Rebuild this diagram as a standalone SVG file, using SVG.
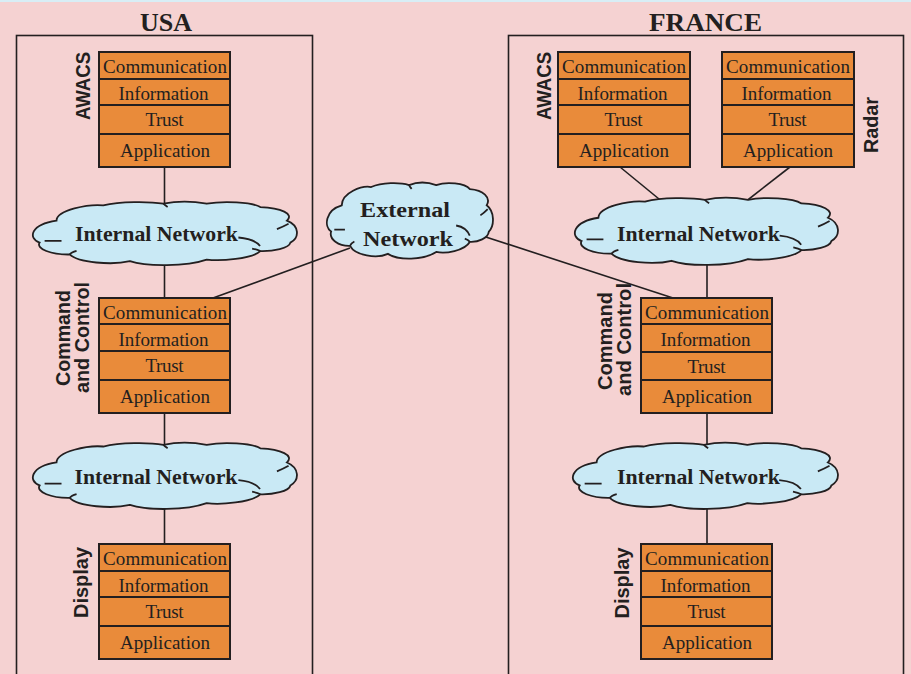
<svg xmlns="http://www.w3.org/2000/svg" xmlns:xlink="http://www.w3.org/1999/xlink" width="911" height="674" viewBox="0 0 911 674">
<style>
.bg{fill:#f5d2d2}
.frame{fill:none;stroke:#231f20;stroke-width:1.6}
.title{font-family:"Liberation Serif",serif;font-weight:bold;font-size:26px;fill:#231f20;text-anchor:middle}
.row{fill:#e98b3a;stroke:#231f20;stroke-width:2}
.rt{font-family:"Liberation Serif",serif;font-size:19px;fill:#231f20;text-anchor:middle}
.side{font-family:"Liberation Sans",Arial,sans-serif;font-weight:bold;font-size:21px;fill:#231f20;text-anchor:middle}
.cloud{fill:#c9e9f5;stroke:#231f20;stroke-width:1.8}
.hook{fill:none;stroke:#231f20;stroke-width:1.8}
.ct{font-family:"Liberation Serif",serif;font-weight:bold;font-size:22px;fill:#231f20;text-anchor:middle}
.conn line{stroke:#231f20;stroke-width:1.6}
</style>
<defs>
<path id="cloud" vector-effect="non-scaling-stroke" d="M2.5 61.5 C-2 55 -1 34 8.9 28.2 C9 12 21 3 26.6 5.1 C33 -1 44 -1 49.4 2.6 C55 -2 61 -1 65.8 2.6 C72 -2 83 0 86.1 7.7 C94 9 99 18 96.2 28.2 C101 36 101 54 97.5 61.5 C97 70 91 75 86.1 74.4 C83 86 71 90 65.8 87.2 C58 98 43 98 36.7 89.7 C30 96 17 92 13.9 79.5 C7 80 1 71 2.5 61.5 Z"/>
<path id="hooks" vector-effect="non-scaling-stroke" fill="none" d="M4.4 59 L10.8 59 M92.4 41 Q95 37 96.8 33 M77.8 53.8 Q84 56 86 66.7 M13.9 79.5 Q14.5 76 16.5 74 M49.4 2.6 Q50 5 51 7.5 M86.1 74.4 Q85 72 83 70.5"/>
</defs>
<rect class="bg" x="0" y="0" width="911" height="674"/>
<rect x="0" y="0" width="911" height="2" fill="#d8eef6"/>

<g id="usa-frame">
<rect class="frame" x="16.5" y="35.5" width="296" height="700"/>
<text class="title" x="166" y="31" textLength="52" lengthAdjust="spacingAndGlyphs">USA</text>
</g>
<g id="france-frame">
<rect class="frame" x="508.5" y="35.5" width="395" height="700"/>
<text class="title" x="705.5" y="31" textLength="113" lengthAdjust="spacingAndGlyphs">FRANCE</text>
</g>

<g id="connectors" class="conn">
<line x1="164.5" y1="167" x2="164.5" y2="215"/>
<line x1="164.5" y1="255" x2="164.5" y2="298"/>
<line x1="164.5" y1="413" x2="164.5" y2="455"/>
<line x1="164.5" y1="500" x2="164.5" y2="544"/>
<line x1="350" y1="248" x2="213" y2="298"/>
<line x1="475" y1="233.4" x2="673" y2="298"/>
<line x1="620" y1="167" x2="670" y2="208"/>
<line x1="790" y1="167" x2="740" y2="206"/>
<line x1="707" y1="255" x2="707" y2="298"/>
<line x1="707" y1="413" x2="707" y2="455"/>
<line x1="707" y1="500" x2="707" y2="544"/>
</g>

<g id="usa-awacs">
<rect class="row" x="99" y="52" width="131" height="27"/>
<rect class="row" x="99" y="79" width="131" height="26"/>
<rect class="row" x="99" y="105" width="131" height="29"/>
<rect class="row" x="99" y="134" width="131" height="33"/>
<text class="rt" x="165" y="73" textLength="124" lengthAdjust="spacing">Communication</text>
<text class="rt" x="163.5" y="99.5" textLength="90" lengthAdjust="spacing">Information</text>
<text class="rt" x="164.5" y="126" textLength="38" lengthAdjust="spacing">Trust</text>
<text class="rt" x="165" y="157" textLength="90" lengthAdjust="spacing">Application</text>
<text class="side" transform="translate(90,86) rotate(-90)" textLength="68" lengthAdjust="spacingAndGlyphs">AWACS</text>
</g>

<g id="usa-cc">
<rect class="row" x="99" y="298" width="131" height="26"/>
<rect class="row" x="99" y="324" width="131" height="27"/>
<rect class="row" x="99" y="351" width="131" height="29"/>
<rect class="row" x="99" y="380" width="131" height="33"/>
<text class="rt" x="165" y="319" textLength="124" lengthAdjust="spacing">Communication</text>
<text class="rt" x="163.5" y="345.5" textLength="90" lengthAdjust="spacing">Information</text>
<text class="rt" x="164.5" y="372" textLength="38" lengthAdjust="spacing">Trust</text>
<text class="rt" x="165" y="403" textLength="90" lengthAdjust="spacing">Application</text>
<text class="side" transform="translate(70,338) rotate(-90)" textLength="96" lengthAdjust="spacingAndGlyphs">Command</text>
<text class="side" transform="translate(89,337.5) rotate(-90)" textLength="111" lengthAdjust="spacingAndGlyphs">and Control</text>
</g>

<g id="usa-display">
<rect class="row" x="99" y="544" width="131" height="27"/>
<rect class="row" x="99" y="571" width="131" height="26"/>
<rect class="row" x="99" y="597" width="131" height="29"/>
<rect class="row" x="99" y="626" width="131" height="33"/>
<text class="rt" x="165" y="565" textLength="124" lengthAdjust="spacing">Communication</text>
<text class="rt" x="163.5" y="591.5" textLength="90" lengthAdjust="spacing">Information</text>
<text class="rt" x="164.5" y="618" textLength="38" lengthAdjust="spacing">Trust</text>
<text class="rt" x="165" y="649" textLength="90" lengthAdjust="spacing">Application</text>
<text class="side" transform="translate(88,582.5) rotate(-90)" textLength="71" lengthAdjust="spacingAndGlyphs">Display</text>
</g>

<g id="fr-awacs">
<rect class="row" x="558" y="52" width="132" height="27"/>
<rect class="row" x="558" y="79" width="132" height="26"/>
<rect class="row" x="558" y="105" width="132" height="29"/>
<rect class="row" x="558" y="134" width="132" height="33"/>
<text class="rt" x="624" y="73" textLength="124" lengthAdjust="spacing">Communication</text>
<text class="rt" x="622.5" y="99.5" textLength="90" lengthAdjust="spacing">Information</text>
<text class="rt" x="623.5" y="126" textLength="38" lengthAdjust="spacing">Trust</text>
<text class="rt" x="624" y="157" textLength="90" lengthAdjust="spacing">Application</text>
<text class="side" transform="translate(551,86) rotate(-90)" textLength="68" lengthAdjust="spacingAndGlyphs">AWACS</text>
</g>

<g id="fr-radar">
<rect class="row" x="722" y="52" width="132" height="27"/>
<rect class="row" x="722" y="79" width="132" height="26"/>
<rect class="row" x="722" y="105" width="132" height="29"/>
<rect class="row" x="722" y="134" width="132" height="33"/>
<text class="rt" x="788" y="73" textLength="124" lengthAdjust="spacing">Communication</text>
<text class="rt" x="786.5" y="99.5" textLength="90" lengthAdjust="spacing">Information</text>
<text class="rt" x="787.5" y="126" textLength="38" lengthAdjust="spacing">Trust</text>
<text class="rt" x="788" y="157" textLength="90" lengthAdjust="spacing">Application</text>
<text class="side" transform="translate(878,125) rotate(-90)" textLength="56" lengthAdjust="spacingAndGlyphs">Radar</text>
</g>

<g id="fr-cc">
<rect class="row" x="641" y="298" width="131" height="26"/>
<rect class="row" x="641" y="324" width="131" height="28"/>
<rect class="row" x="641" y="352" width="131" height="28"/>
<rect class="row" x="641" y="380" width="131" height="33"/>
<text class="rt" x="707" y="319" textLength="124" lengthAdjust="spacing">Communication</text>
<text class="rt" x="705.5" y="346" textLength="90" lengthAdjust="spacing">Information</text>
<text class="rt" x="706.5" y="372.5" textLength="38" lengthAdjust="spacing">Trust</text>
<text class="rt" x="707" y="403" textLength="90" lengthAdjust="spacing">Application</text>
<text class="side" transform="translate(612,341) rotate(-90)" textLength="98" lengthAdjust="spacingAndGlyphs">Command</text>
<text class="side" transform="translate(631,339.5) rotate(-90)" textLength="113" lengthAdjust="spacingAndGlyphs">and Control</text>
</g>

<g id="fr-display">
<rect class="row" x="641" y="544" width="131" height="27"/>
<rect class="row" x="641" y="571" width="131" height="26"/>
<rect class="row" x="641" y="597" width="131" height="29"/>
<rect class="row" x="641" y="626" width="131" height="33"/>
<text class="rt" x="707" y="565" textLength="124" lengthAdjust="spacing">Communication</text>
<text class="rt" x="705.5" y="591.5" textLength="90" lengthAdjust="spacing">Information</text>
<text class="rt" x="706.5" y="618" textLength="38" lengthAdjust="spacing">Trust</text>
<text class="rt" x="707" y="649" textLength="90" lengthAdjust="spacing">Application</text>
<text class="side" transform="translate(629,583) rotate(-90)" textLength="71" lengthAdjust="spacingAndGlyphs">Display</text>
</g>

<g id="usa-net1">
<use href="#cloud" class="cloud" transform="translate(33,202) scale(2.64,0.66)"/>
<use href="#hooks" class="hook" transform="translate(33,202) scale(2.64,0.66)"/>
<text class="ct" x="156.5" y="241" textLength="163" lengthAdjust="spacingAndGlyphs">Internal Network</text>
</g>
<g id="usa-net2">
<use href="#cloud" class="cloud" transform="translate(33,443) scale(2.64,0.69)"/>
<use href="#hooks" class="hook" transform="translate(33,443) scale(2.64,0.69)"/>
<text class="ct" x="156" y="484" textLength="163" lengthAdjust="spacingAndGlyphs">Internal Network</text>
</g>
<g id="external-net">
<use href="#cloud" class="cloud" transform="translate(327,183) scale(1.66,0.79)"/>
<use href="#hooks" class="hook" transform="translate(327,183) scale(1.66,0.79)"/>
<text class="ct" x="405" y="217" textLength="90" lengthAdjust="spacingAndGlyphs">External</text>
<text class="ct" x="408" y="246" textLength="90" lengthAdjust="spacingAndGlyphs">Network</text>
</g>
<g id="fr-net1">
<use href="#cloud" class="cloud" transform="translate(575,198) scale(2.63,0.70)"/>
<use href="#hooks" class="hook" transform="translate(575,198) scale(2.63,0.70)"/>
<text class="ct" x="698.5" y="241" textLength="163" lengthAdjust="spacingAndGlyphs">Internal Network</text>
</g>
<g id="fr-net2">
<use href="#cloud" class="cloud" transform="translate(573,443) scale(2.65,0.69)"/>
<use href="#hooks" class="hook" transform="translate(573,443) scale(2.65,0.69)"/>
<text class="ct" x="698.5" y="484" textLength="163" lengthAdjust="spacingAndGlyphs">Internal Network</text>
</g>
</svg>
